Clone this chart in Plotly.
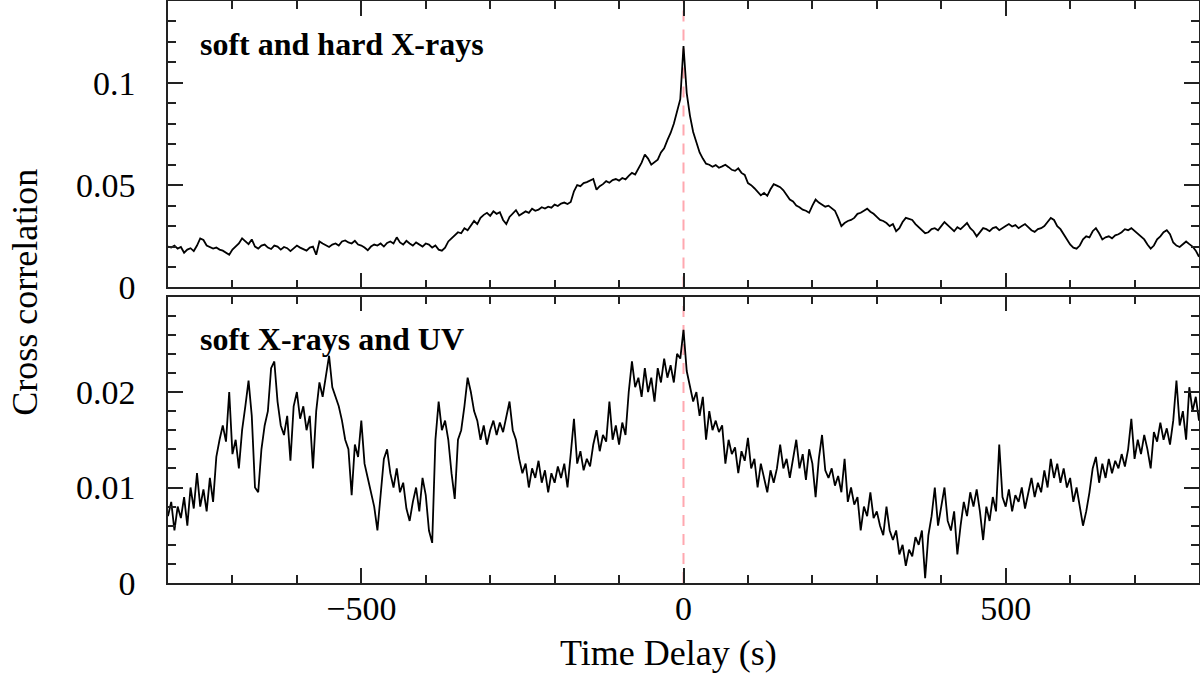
import plotly.graph_objects as go
from plotly.subplots import make_subplots

# time lags in seconds, 5 s bins
lags = list(range(-800, 801, 5))

# cross correlation, soft vs hard X-rays
ccf_hard = [
    0.0200, 0.0195, 0.0205, 0.0190, 0.0198, 0.0170, 0.0185, 0.0192, 0.0178, 0.0205,
    0.0240, 0.0232, 0.0205, 0.0198, 0.0190, 0.0195, 0.0185, 0.0180, 0.0168, 0.0160,
    0.0185, 0.0200, 0.0215, 0.0240, 0.0225, 0.0212, 0.0235, 0.0200, 0.0190, 0.0205,
    0.0210, 0.0195, 0.0188, 0.0205, 0.0200, 0.0185, 0.0198, 0.0192, 0.0178, 0.0190,
    0.0205, 0.0195, 0.0188, 0.0180, 0.0195, 0.0200, 0.0160, 0.0225, 0.0215, 0.0205,
    0.0198, 0.0210, 0.0215, 0.0205, 0.0225, 0.0230, 0.0220, 0.0215, 0.0228, 0.0210,
    0.0205, 0.0195, 0.0182, 0.0200, 0.0210, 0.0205, 0.0215, 0.0200, 0.0218, 0.0225,
    0.0215, 0.0245, 0.0220, 0.0210, 0.0228, 0.0215, 0.0205, 0.0220, 0.0212, 0.0200,
    0.0215, 0.0210, 0.0195, 0.0205, 0.0185, 0.0180, 0.0195, 0.0225, 0.0240, 0.0255,
    0.0270, 0.0265, 0.0290, 0.0280, 0.0300, 0.0325, 0.0310, 0.0340, 0.0355, 0.0365,
    0.0350, 0.0372, 0.0360, 0.0368, 0.0330, 0.0310, 0.0345, 0.0360, 0.0378, 0.0352,
    0.0360, 0.0372, 0.0365, 0.0385, 0.0375, 0.0380, 0.0392, 0.0386, 0.0395, 0.0390,
    0.0405, 0.0398, 0.0410, 0.0415, 0.0408, 0.0418, 0.0470, 0.0500, 0.0495, 0.0510,
    0.0515, 0.0522, 0.0530, 0.0478, 0.0495, 0.0505, 0.0520, 0.0512, 0.0525, 0.0530,
    0.0522, 0.0535, 0.0528, 0.0545, 0.0560, 0.0552, 0.0580, 0.0610, 0.0650, 0.0630,
    0.0600, 0.0615, 0.0625, 0.0660, 0.0680, 0.0720, 0.0755, 0.0800, 0.0860, 0.0920,
    0.1180, 0.0950, 0.0840, 0.0760, 0.0710, 0.0660, 0.0630, 0.0605, 0.0600, 0.0590,
    0.0598, 0.0585, 0.0592, 0.0600, 0.0588, 0.0575, 0.0570, 0.0582, 0.0560, 0.0550,
    0.0510, 0.0500, 0.0485, 0.0470, 0.0450, 0.0462, 0.0448, 0.0480, 0.0505, 0.0498,
    0.0490, 0.0475, 0.0455, 0.0430, 0.0420, 0.0400, 0.0392, 0.0380, 0.0375, 0.0365,
    0.0400, 0.0430, 0.0415, 0.0405, 0.0395, 0.0400, 0.0385, 0.0375, 0.0340, 0.0300,
    0.0315, 0.0325, 0.0330, 0.0340, 0.0360, 0.0365, 0.0375, 0.0385, 0.0370, 0.0360,
    0.0345, 0.0330, 0.0325, 0.0315, 0.0300, 0.0310, 0.0275, 0.0290, 0.0320, 0.0340,
    0.0335, 0.0330, 0.0310, 0.0295, 0.0280, 0.0265, 0.0270, 0.0285, 0.0290, 0.0280,
    0.0300, 0.0320, 0.0305, 0.0290, 0.0275, 0.0295, 0.0285, 0.0300, 0.0315, 0.0290,
    0.0275, 0.0250, 0.0270, 0.0290, 0.0285, 0.0275, 0.0290, 0.0295, 0.0280, 0.0292,
    0.0300, 0.0310, 0.0298, 0.0305, 0.0290, 0.0300, 0.0310, 0.0295, 0.0280, 0.0272,
    0.0285, 0.0290, 0.0300, 0.0320, 0.0340, 0.0330, 0.0300, 0.0285, 0.0260, 0.0230,
    0.0210, 0.0195, 0.0190, 0.0205, 0.0235, 0.0250, 0.0245, 0.0275, 0.0290, 0.0265,
    0.0235, 0.0245, 0.0250, 0.0240, 0.0255, 0.0260, 0.0270, 0.0285, 0.0280, 0.0290,
    0.0275, 0.0260, 0.0250, 0.0235, 0.0210, 0.0190, 0.0205, 0.0235, 0.0250, 0.0270,
    0.0280, 0.0260, 0.0220, 0.0205, 0.0198, 0.0210, 0.0225, 0.0212, 0.0200, 0.0180, 0.0150,
]

# cross correlation, soft X-rays vs UV
ccf_uv = [
    0.0070, 0.0085, 0.0055, 0.0080, 0.0068, 0.0090, 0.0060, 0.0100, 0.0078, 0.0115,
    0.0080, 0.0098, 0.0075, 0.0110, 0.0085, 0.0132, 0.0150, 0.0165, 0.0148, 0.0200,
    0.0135, 0.0150, 0.0120, 0.0160, 0.0185, 0.0212, 0.0175, 0.0100, 0.0095, 0.0140,
    0.0165, 0.0180, 0.0225, 0.0232, 0.0190, 0.0165, 0.0155, 0.0175, 0.0128, 0.0185,
    0.0200, 0.0172, 0.0185, 0.0160, 0.0175, 0.0120, 0.0180, 0.0210, 0.0195, 0.0218,
    0.0238, 0.0205, 0.0195, 0.0185, 0.0170, 0.0150, 0.0140, 0.0092, 0.0145, 0.0132,
    0.0170, 0.0125, 0.0110, 0.0095, 0.0080, 0.0055, 0.0090, 0.0130, 0.0140, 0.0115,
    0.0100, 0.0120, 0.0095, 0.0105, 0.0078, 0.0065, 0.0085, 0.0100, 0.0075, 0.0110,
    0.0092, 0.0055, 0.0042, 0.0150, 0.0190, 0.0160, 0.0170, 0.0150, 0.0115, 0.0088,
    0.0150, 0.0160, 0.0185, 0.0215, 0.0200, 0.0180, 0.0170, 0.0150, 0.0165, 0.0145,
    0.0160, 0.0170, 0.0155, 0.0168, 0.0158, 0.0175, 0.0190, 0.0160, 0.0150, 0.0130,
    0.0115, 0.0125, 0.0100, 0.0120, 0.0110, 0.0128, 0.0105, 0.0118, 0.0095, 0.0115,
    0.0105, 0.0122, 0.0110, 0.0125, 0.0100, 0.0135, 0.0172, 0.0125, 0.0138, 0.0118,
    0.0130, 0.0122, 0.0145, 0.0160, 0.0138, 0.0155, 0.0148, 0.0190, 0.0150, 0.0165,
    0.0145, 0.0168, 0.0155, 0.0200, 0.0232, 0.0205, 0.0215, 0.0195, 0.0225, 0.0200,
    0.0215, 0.0190, 0.0225, 0.0210, 0.0235, 0.0215, 0.0228, 0.0210, 0.0240, 0.0235,
    0.0265, 0.0222, 0.0205, 0.0190, 0.0200, 0.0175, 0.0195, 0.0150, 0.0180, 0.0160,
    0.0170, 0.0158, 0.0165, 0.0125, 0.0150, 0.0135, 0.0142, 0.0115, 0.0138, 0.0128,
    0.0152, 0.0120, 0.0130, 0.0100, 0.0125, 0.0110, 0.0095, 0.0118, 0.0105, 0.0120,
    0.0145, 0.0120, 0.0130, 0.0110, 0.0128, 0.0150, 0.0120, 0.0135, 0.0108, 0.0140,
    0.0125, 0.0090, 0.0130, 0.0155, 0.0118, 0.0110, 0.0120, 0.0102, 0.0112, 0.0095,
    0.0130, 0.0085, 0.0100, 0.0082, 0.0090, 0.0055, 0.0080, 0.0070, 0.0095, 0.0068,
    0.0075, 0.0060, 0.0050, 0.0080, 0.0055, 0.0045, 0.0055, 0.0030, 0.0040, 0.0018,
    0.0035, 0.0028, 0.0048, 0.0040, 0.0055, 0.0005, 0.0050, 0.0070, 0.0100, 0.0060,
    0.0080, 0.0100, 0.0065, 0.0055, 0.0075, 0.0030, 0.0060, 0.0085, 0.0070, 0.0095,
    0.0080, 0.0098, 0.0075, 0.0045, 0.0080, 0.0065, 0.0090, 0.0075, 0.0145, 0.0090,
    0.0080, 0.0098, 0.0075, 0.0092, 0.0085, 0.0100, 0.0078, 0.0095, 0.0110, 0.0090,
    0.0105, 0.0095, 0.0118, 0.0100, 0.0130, 0.0110, 0.0125, 0.0105, 0.0120, 0.0100,
    0.0110, 0.0085, 0.0100, 0.0080, 0.0060, 0.0075, 0.0095, 0.0120, 0.0132, 0.0105,
    0.0125, 0.0110, 0.0130, 0.0115, 0.0128, 0.0120, 0.0135, 0.0122, 0.0140, 0.0172,
    0.0130, 0.0150, 0.0135, 0.0155, 0.0140, 0.0120, 0.0158, 0.0148, 0.0168, 0.0150,
    0.0162, 0.0145, 0.0170, 0.0212, 0.0165, 0.0180, 0.0150, 0.0205, 0.0180, 0.0195, 0.0170,
]

panel_labels = ["soft and hard X-rays", "soft X-rays and UV"]
top_ticks = [0, 0.05, 0.1]
bottom_ticks = [0, 0.01, 0.02]
x_ticks = [-500, 0, 500]

serif = "Liberation Serif"

fig = make_subplots(rows=2, cols=1, shared_xaxes=True, vertical_spacing=0.0155)

fig.add_trace(go.Scatter(x=lags, y=ccf_hard, mode="lines",
                         line=dict(color="black", width=1.8)), row=1, col=1)
fig.add_trace(go.Scatter(x=lags, y=ccf_uv, mode="lines",
                         line=dict(color="black", width=1.8)), row=2, col=1)

# zero lag marker
fig.add_vline(x=0, line=dict(color="#ffa8b0", width=2, dash="11px,8px"),
              layer="below", row="all", col=1)

axis_style = dict(showline=True, linecolor="#222", linewidth=1.5, mirror="ticks",
                  ticks="inside", ticklen=15, tickwidth=1.5, tickcolor="#222",
                  showgrid=False, zeroline=False, automargin=False,
                  tickfont=dict(family=serif, size=34, color="black"))

fig.update_xaxes(range=[-800, 800], tickvals=x_ticks,
                 minor=dict(ticks="inside", ticklen=8, dtick=100, tick0=0,
                            tickwidth=1.5, tickcolor="#222"),
                 ticklabelstandoff=-6, **axis_style)
fig.update_xaxes(showticklabels=False, row=1, col=1)
fig.update_xaxes(ticktext=["\u2212500", "0", "500"], row=2, col=1)

fig.update_yaxes(range=[0, 0.14], tickvals=top_ticks, ticktext=["0", "0.05", "0.1"],
                 minor=dict(ticks="inside", ticklen=8, dtick=0.01, tick0=0,
                            tickwidth=1.5, tickcolor="#222"),
                 ticklabelstandoff=24, row=1, col=1, **axis_style)
fig.update_yaxes(range=[0, 0.03], tickvals=bottom_ticks, ticktext=["0", "0.01", "0.02"],
                 minor=dict(ticks="inside", ticklen=8, dtick=0.002, tick0=0,
                            tickwidth=1.5, tickcolor="#222"),
                 ticklabelstandoff=24, row=2, col=1, **axis_style)

# panel labels
for i, label in enumerate(panel_labels):
    fig.add_annotation(text="<b>" + label + "</b>", xref="x domain", yref="y domain",
                       x=0.029, y=0.85, xanchor="left", yanchor="middle", showarrow=False,
                       font=dict(family=serif, size=32, color="black"), row=i + 1, col=1)

# axis titles
fig.add_annotation(text="Cross correlation", xref="paper", yref="paper",
                   x=-0.139, y=0.5, textangle=-90, showarrow=False,
                   xanchor="center", yanchor="middle",
                   font=dict(family=serif, size=36, color="black"))
fig.add_annotation(text="Time Delay (s)", xref="paper", yref="paper",
                   x=0.485, y=-0.12, showarrow=False,
                   xanchor="center", yanchor="middle",
                   font=dict(family=serif, size=36, color="black"))

fig.update_layout(width=1200, height=675, showlegend=False,
                  margin=dict(l=168, r=1, t=1, b=92),
                  plot_bgcolor="white", paper_bgcolor="white")

# the page body has a default 8px margin; drop it so the figure fills the window
fig.write_html("out.html", config={"displayModeBar": False},
               post_script="document.body.style.margin='0px';")
